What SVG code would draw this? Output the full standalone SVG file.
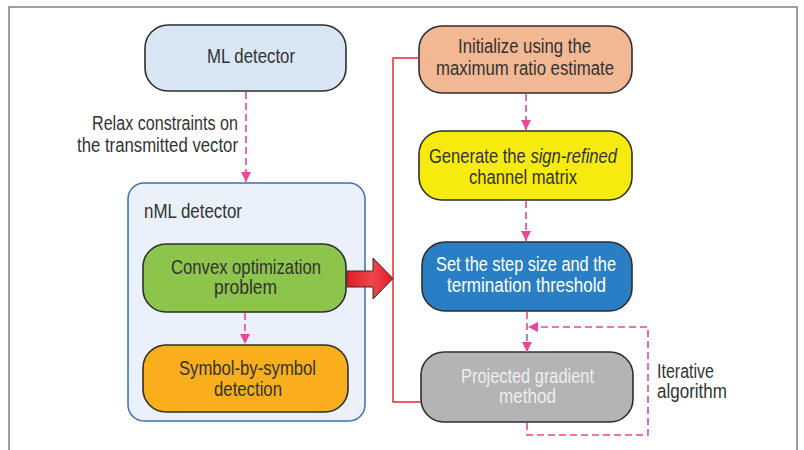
<svg xmlns="http://www.w3.org/2000/svg" width="804" height="450" viewBox="0 0 804 450">
  <defs>
    <style>
      .box { stroke: #2e2e2e; stroke-width: 1.6; }
      .t { font-family: "Liberation Sans Narrow", "Liberation Sans", Arial, sans-serif; font-size: 20px; fill: #333333; }
      .c { text-anchor: middle; }
      .dash { fill: none; stroke: #e8479a; stroke-width: 1.6; stroke-dasharray: 7 4; }
      .red { fill: none; stroke: #e52a35; stroke-width: 1.5; }
    </style>
    <marker id="ah" viewBox="0 0 10 10" refX="10" refY="5" markerWidth="10" markerHeight="10" markerUnits="userSpaceOnUse" orient="auto">
      <path d="M0,0 L10,5 L0,10 Z" fill="#e8479a"/>
    </marker>
    <linearGradient id="redGrad" x1="0" y1="0" x2="1" y2="0">
      <stop offset="0" stop-color="#e01b24"/>
      <stop offset="0.55" stop-color="#f0474d"/>
      <stop offset="1" stop-color="#e01b24"/>
    </linearGradient>
  </defs>

  <rect width="804" height="450" fill="#ffffff"/>

  <!-- frame -->
  <path d="M9,450 V7 H797 V450" fill="none" stroke="#808080" stroke-width="1.5"/>

  <g id="ml-detector">
    <rect class="box" x="145" y="25" width="201" height="66" rx="23" fill="#d9e6f3"/>
    <text class="t c" x="251" y="63" textLength="88" lengthAdjust="spacingAndGlyphs">ML detector</text>
  </g>

  <g id="nml-detector">
    <rect x="128" y="183" width="237" height="238" rx="16" fill="#eaf1fa" stroke="#3d6fb6" stroke-width="1.5"/>
    <text class="t" x="144" y="218" textLength="98" lengthAdjust="spacingAndGlyphs">nML detector</text>
  </g>

  <g id="convex">
    <rect class="box" x="143" y="244" width="203" height="68" rx="23" fill="#8dc44b"/>
    <text class="t c" x="246" y="274" textLength="150" lengthAdjust="spacingAndGlyphs">Convex optimization</text>
    <text class="t c" x="245.5" y="294" textLength="63" lengthAdjust="spacingAndGlyphs">problem</text>
  </g>

  <g id="symbol">
    <rect class="box" x="143" y="345" width="205" height="67" rx="23" fill="#f9ae1b"/>
    <text class="t c" x="247.5" y="375" textLength="137" lengthAdjust="spacingAndGlyphs">Symbol-by-symbol</text>
    <text class="t c" x="248" y="396" textLength="68" lengthAdjust="spacingAndGlyphs">detection</text>
  </g>

  <g id="initialize">
    <rect class="box" x="419" y="26" width="213" height="67" rx="23" fill="#f2b893"/>
    <text class="t c" x="524.5" y="53" textLength="133" lengthAdjust="spacingAndGlyphs">Initialize using the</text>
    <text class="t c" x="525" y="75" textLength="178" lengthAdjust="spacingAndGlyphs">maximum ratio estimate</text>
  </g>

  <g id="generate">
    <rect class="box" x="419" y="131" width="213" height="69" rx="23" fill="#f6eb0c"/>
    <!-- first line is narrowed by a horizontal scale so the italic run stays in one text -->
    <text class="t c" transform="translate(523,163) scale(0.83,1)">Generate the <tspan font-style="italic">sign-refined</tspan></text>
    <text class="t c" x="523" y="184" textLength="108" lengthAdjust="spacingAndGlyphs">channel matrix</text>
  </g>

  <g id="step-size">
    <rect class="box" x="422" y="242" width="210" height="69" rx="23" fill="#2a7fc4"/>
    <text class="t c" x="526" y="271" textLength="180" lengthAdjust="spacingAndGlyphs" style="fill:#ffffff">Set the step size and the</text>
    <text class="t c" x="526.5" y="292" textLength="159" lengthAdjust="spacingAndGlyphs" style="fill:#ffffff">termination threshold</text>
  </g>

  <g id="projected">
    <rect class="box" x="421" y="352" width="212" height="70" rx="23" fill="#b3b4b6"/>
    <text class="t c" x="527.5" y="383" textLength="133" lengthAdjust="spacingAndGlyphs" style="fill:#eeeeee">Projected gradient</text>
    <text class="t c" x="527.5" y="403" textLength="57" lengthAdjust="spacingAndGlyphs" style="fill:#eeeeee">method</text>
  </g>

  <!-- connectors, drawn over the nodes so the block arrow crosses the container edge -->
  <g id="connectors">
    <line class="dash" x1="246" y1="92" x2="246" y2="182" marker-end="url(#ah)"/>
    <line class="dash" x1="245" y1="313" x2="245" y2="344" marker-end="url(#ah)"/>
    <line class="dash" x1="526" y1="94" x2="526" y2="130" marker-end="url(#ah)"/>
    <line class="dash" x1="526" y1="201" x2="526" y2="241" marker-end="url(#ah)"/>
    <line class="dash" x1="527" y1="312" x2="527" y2="352" marker-end="url(#ah)"/>
    <path class="dash" d="M527,423 V435 H648 V327 H528" marker-end="url(#ah)"/>
    <path class="red" d="M420,58 H393 V402 H421"/>
    <path d="M347,271 H373 V258 L393,278.5 L373,299 V287 H347 Z" fill="url(#redGrad)" stroke="#3a2a2a" stroke-width="1"/>
  </g>

  <!-- labels on connectors -->
  <g id="labels">
    <text class="t" x="238" y="130" text-anchor="end" textLength="146" lengthAdjust="spacingAndGlyphs">Relax constraints on</text>
    <text class="t" x="238" y="152" text-anchor="end" textLength="161" lengthAdjust="spacingAndGlyphs">the transmitted vector</text>
    <text class="t" x="657" y="378" textLength="57" lengthAdjust="spacingAndGlyphs">Iterative</text>
    <text class="t" x="657" y="398" textLength="70" lengthAdjust="spacingAndGlyphs">algorithm</text>
  </g>
</svg>
